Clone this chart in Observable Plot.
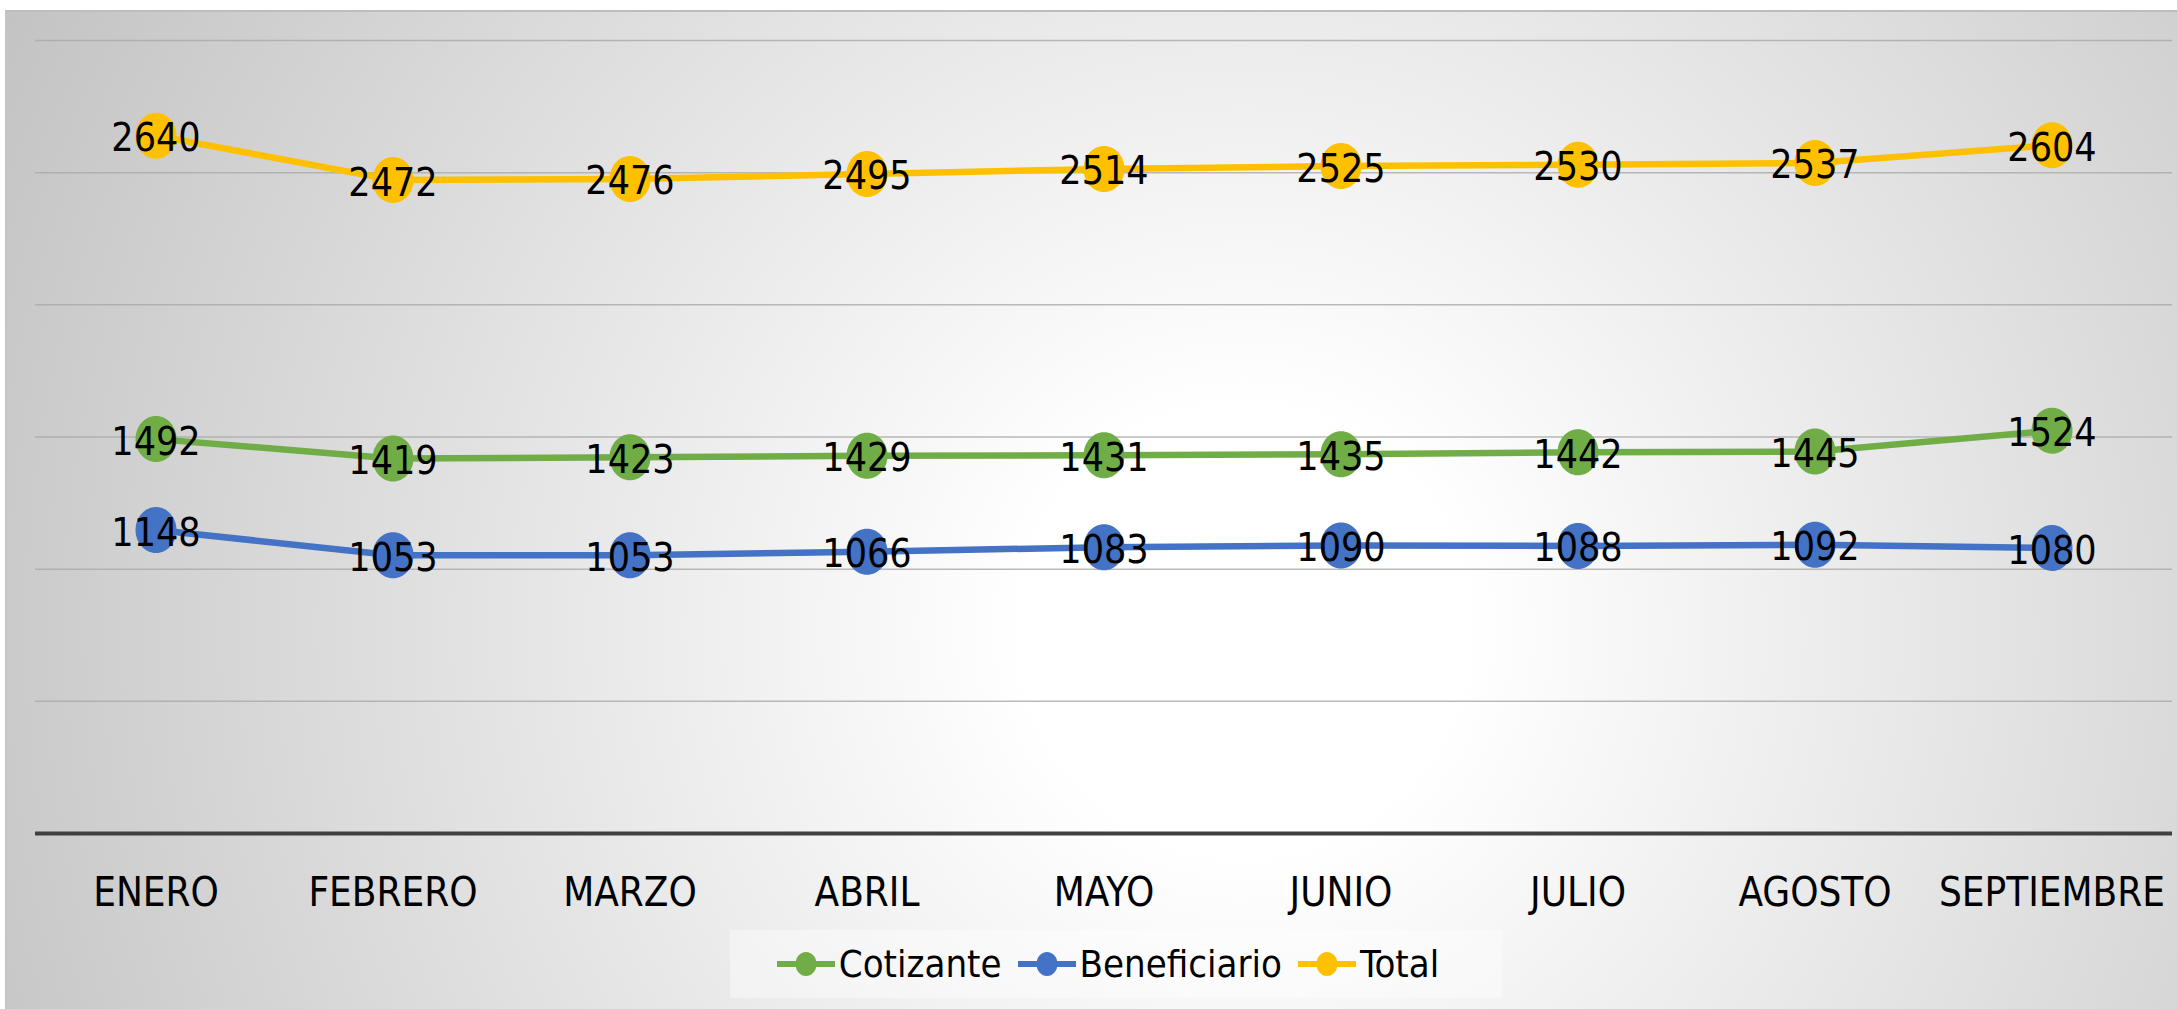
<!DOCTYPE html>
<html>
<head>
<meta charset="utf-8">
<script src="https://cdn.jsdelivr.net/npm/d3@7"></script>
<script src="https://cdn.jsdelivr.net/npm/@observablehq/plot@0.6"></script>
<style>
  html, body { margin: 0; padding: 0; background: #ffffff; }
  #wrap { position: relative; width: 2177px; height: 1009px; overflow: hidden; font-family: "Comic Sans MS", "DejaVu Sans Condensed", "Noto Sans", sans-serif; }
  #panel { position: absolute; left: 5px; top: 10px; width: 2172px; height: 999px; box-sizing: border-box;
    border-top: 2px solid #bdbdbd; border-left: 2px solid #c4c4c4;
    background: radial-gradient(circle farthest-corner at 57% 62%, #ffffff 0%, #ffffff 16%, #c3c3c3 100%); }
  #chart { position: absolute; left: 0; top: 0; }
  #legend { position: absolute; left: 730px; top: 930px; width: 772px; height: 68px; background: rgba(255,255,255,0.4);
    display: flex; align-items: center; justify-content: center; gap: 0; font-size: 38px; color: #000; }
  .item { display: flex; align-items: center; margin: 0 16px 0 0; }
  .item svg { margin-right: 4px; }
</style>
</head>
<body>
<div id="wrap">
  <div id="panel"></div>
  <div id="chart"></div>
  <div id="legend"></div>
</div>
<script>
const months = ["ENERO", "FEBRERO", "MARZO", "ABRIL", "MAYO", "JUNIO", "JULIO", "AGOSTO", "SEPTIEMBRE"];
const cotizante = [1492, 1419, 1423, 1429, 1431, 1435, 1442, 1445, 1524];
const beneficiario = [1148, 1053, 1053, 1066, 1083, 1090, 1088, 1092, 1080];
const total = [2640, 2472, 2476, 2495, 2514, 2525, 2530, 2537, 2604];
const seriesNames = ["Cotizante", "Beneficiario", "Total"];
const seriesColors = ["#70AD47", "#4472C4", "#FFC000"];
const yTicks = [500, 1000, 1500, 2000, 2500, 3000];

const seriesValues = [cotizante, beneficiario, total];
const rows = [];
seriesNames.forEach((s, si) => {
  months.forEach((m, i) => rows.push({serie: s, mes: m, valor: seriesValues[si][i]}));
});

const fontFam = '"Comic Sans MS", "DejaVu Sans Condensed", "Noto Sans", sans-serif';

// ellipse marker symbol
function ellipseSymbol(rx, ry) {
  const k = 0.5523;
  return {
    draw(ctx) {
      ctx.moveTo(rx, 0);
      ctx.bezierCurveTo(rx, k * ry, k * rx, ry, 0, ry);
      ctx.bezierCurveTo(-k * rx, ry, -rx, k * ry, -rx, 0);
      ctx.bezierCurveTo(-rx, -k * ry, -k * rx, -ry, 0, -ry);
      ctx.bezierCurveTo(k * rx, -ry, rx, -k * ry, rx, 0);
      ctx.closePath();
    }
  };
}

const plot = Plot.plot({
  width: 2177,
  height: 935,
  marginLeft: 35,
  marginRight: 5,
  marginTop: 40,
  marginBottom: 102,
  style: {background: "transparent", fontFamily: fontFam},
  x: {type: "band", domain: months, padding: 0, label: null},
  y: {domain: [0, 3000], axis: null},
  color: {domain: seriesNames, range: seriesColors},
  marks: [
    Plot.gridY(yTicks, {stroke: "#a9a9a9", strokeOpacity: 0.8, strokeWidth: 1.5}),
    Plot.ruleY([0], {stroke: "#404040", strokeWidth: 4}),
    Plot.axisX({tickSize: 0, tickPadding: 44, fontSize: 40, fill: "#000", label: null, fontFamily: fontFam}),
    Plot.line(rows, {x: "mes", y: "valor", z: "serie", stroke: "serie", strokeWidth: 6.5, curve: "linear"}),
    Plot.dot(rows, {x: "mes", y: "valor", fill: "serie", stroke: null, symbol: ellipseSymbol(20.5, 23)}),
    Plot.text(rows, {x: "mes", y: "valor", text: d => String(d.valor), fontSize: 39, fill: "#000", dy: 3, fontFamily: fontFam})
  ]
});
document.getElementById("chart").appendChild(plot);

// legend
const legend = d3.select("#legend");
seriesNames.forEach((s, i) => {
  const item = legend.append("div").attr("class", "item");
  const sv = item.append("svg").attr("width", 58).attr("height", 30);
  sv.append("line").attr("x1", 0).attr("x2", 58).attr("y1", 15).attr("y2", 15)
    .attr("stroke", seriesColors[i]).attr("stroke-width", 6);
  sv.append("ellipse").attr("cx", 29).attr("cy", 15).attr("rx", 10.5).attr("ry", 12).attr("fill", seriesColors[i]);
  item.append("span").text(s);
});
</script>
</body>
</html>
